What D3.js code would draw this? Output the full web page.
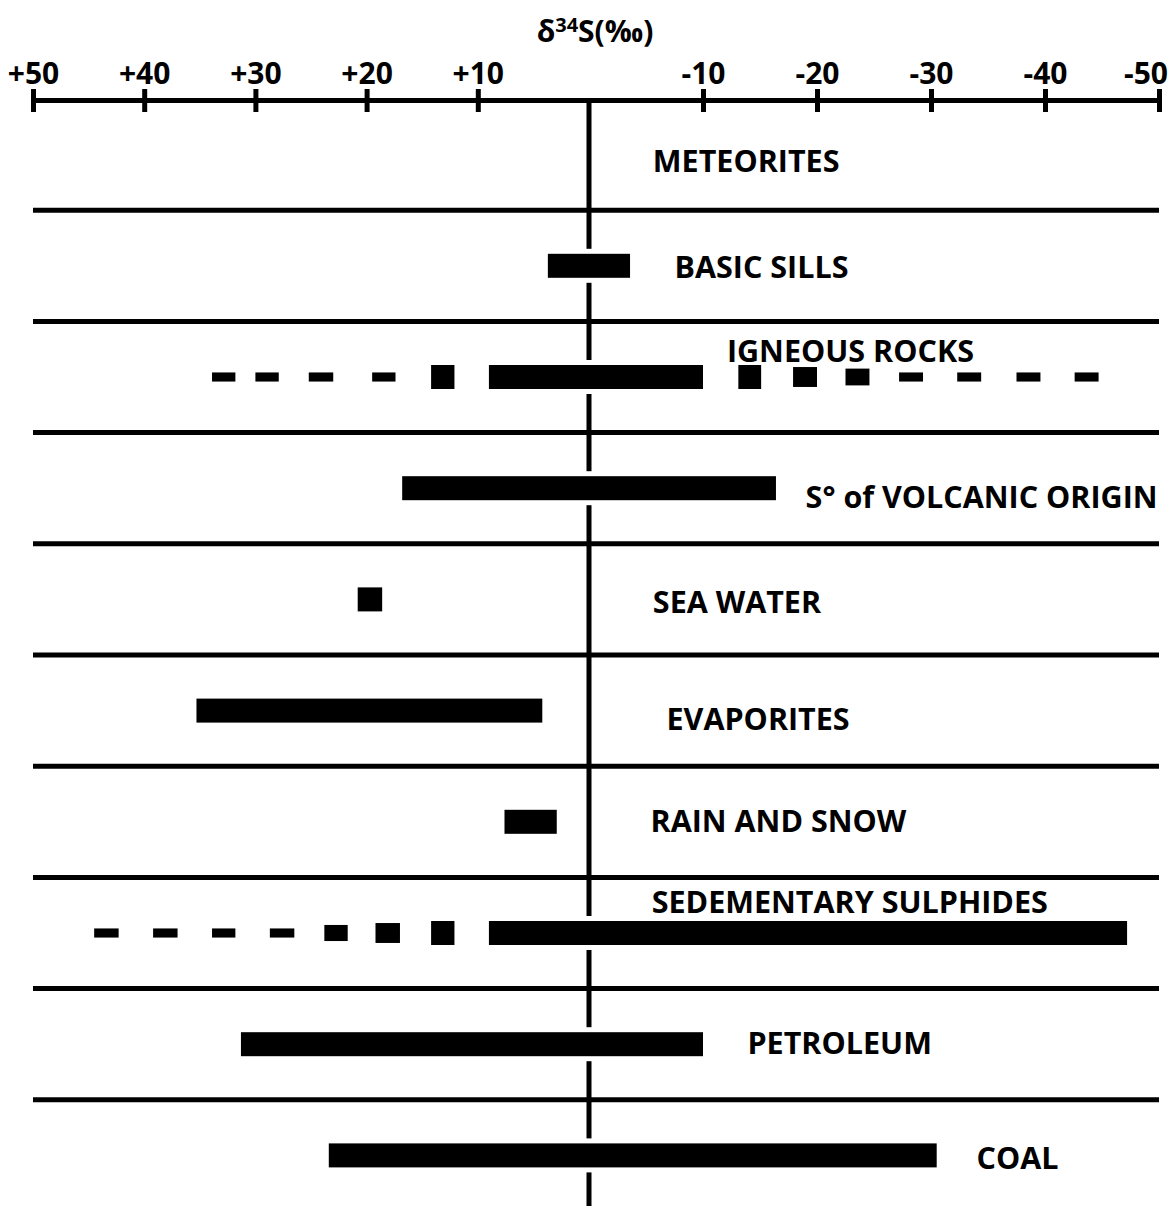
<!DOCTYPE html>
<html>
<head>
<meta charset="utf-8">
<script src="https://cdn.jsdelivr.net/npm/d3@7"></script>
<style>
  html, body { margin: 0; padding: 0; background: #fff; }
  svg { display: block; }
  text { font-family: "Open Sans", "Noto Sans", sans-serif; font-weight: 700; fill: #000; }
</style>
</head>
<body>
<svg id="chart" width="1172" height="1209"></svg>
<script>
// ---------------- data ----------------
const categories = ["METEORITES", "BASIC SILLS", "IGNEOUS ROCKS", "S° of VOLCANIC ORIGIN", "SEA WATER",
  "EVAPORITES", "RAIN AND SNOW", "SEDEMENTARY SULPHIDES", "PETROLEUM", "COAL"];
// main range of δ34S (‰) per category (null = no bar)
const rangeFrom = [null, 3.7, 9.0, 16.8, 20.8, 35.3, 7.6, 9.0, 31.3, 23.4];
const rangeTo   = [null, -3.6, -10.0, -16.4, 18.6, 4.2, 2.9, -47.2, -10.0, -30.5];

// dashed tails (rare occurrences), with relative frequency weight
const igneousTailFrom   = [33.9, 30.0, 25.2, 19.5, 14.2, -13.1, -17.9, -22.5, -27.2, -32.3, -37.5, -42.6];
const igneousTailTo     = [31.8, 27.9, 23.0, 17.4, 12.1, -15.1, -20.0, -24.6, -29.3, -34.4, -39.6, -44.7];
const igneousTailWeight = [0.38, 0.38, 0.38, 0.38, 1.0, 1.0, 0.83, 0.7, 0.38, 0.38, 0.38, 0.38];

const sulphideTailFrom   = [44.5, 39.2, 33.9, 28.7, 23.8, 19.2, 14.2];
const sulphideTailTo     = [42.3, 37.0, 31.8, 26.5, 21.7, 17.0, 12.1];
const sulphideTailWeight = [0.38, 0.38, 0.38, 0.38, 0.67, 0.83, 1.0];

const tickValues = [50, 40, 30, 20, 10, -10, -20, -30, -40, -50];
const tickLabels = ["+50", "+40", "+30", "+20", "+10", "-10", "-20", "-30", "-40", "-50"];

// ---------------- layout ----------------
const W = 1172, H = 1209;
const axisY = 100;
const labelAt = [-5.6, -7.5, -12.1, -19.0, -5.6, -6.8, -5.4, -5.5, -13.9, -34.0]; // δ where label starts
const labelDy = [5, 0, -27, 8, 2, 7, -2, -32, -2, 2];

const svg = d3.select("#chart");
const x = d3.scaleLinear().domain([50, 0, -50]).range([33, 589, 1159]);
const y = d3.scaleBand().domain(categories).range([99, 1211]);
const h = d3.scaleLinear().domain([0, 1]).range([0, 24]);
const barH = h(1);
const LW = 5;

// separators
svg.append("g").selectAll("line").data(categories.slice(1)).join("line")
  .attr("x1", x(50)).attr("x2", x(-50))
  .attr("y1", d => y(d)).attr("y2", d => y(d))
  .attr("stroke", "#000").attr("stroke-width", LW);

// centre (zero) line
svg.append("line")
  .attr("x1", x(0)).attr("x2", x(0))
  .attr("y1", axisY).attr("y2", 1206)
  .attr("stroke", "#000").attr("stroke-width", LW);

// axis
const axisG = svg.append("g").attr("transform", `translate(0,${axisY})`)
  .call(d3.axisTop(x).tickValues(tickValues).tickFormat((d, i) => tickLabels[i])
    .tickSize(11).tickSizeOuter(0).tickPadding(5));
axisG.attr("font-family", null).attr("font-size", null);
axisG.select(".domain").attr("stroke", "#000").attr("stroke-width", LW);
axisG.selectAll(".tick line").attr("stroke", "#000").attr("stroke-width", LW).attr("y1", 12);
axisG.selectAll(".tick text").style("font-size", "30px").attr("fill", "#000");
axisG.selectAll(".tick text").each(function () {
  const bb = this.getBBox();
  const t = d3.select(this.parentNode).attr("transform");
  const tx = +t.match(/translate\(([-\d.]+)/)[1];
  const right = tx + bb.x + bb.width;
  if (right > W - 4) d3.select(this).attr("x", (W - 4) - right);
  const left = tx + bb.x;
  if (left < 4) d3.select(this).attr("x", 4 - left);
});

// title
const title = svg.append("text").attr("x", 595).attr("y", 42)
  .attr("text-anchor", "middle").style("font-size", "30px");
title.append("tspan").text("δ");
title.append("tspan").attr("dy", -10).style("font-size", "20px").text("34");
title.append("tspan").attr("dy", 10).text("S(‰)");

// bars
const rows = categories.map((c, i) => ({ c, from: rangeFrom[i], to: rangeTo[i] })).filter(d => d.from !== null);
const cy = c => y(c) + y.bandwidth() / 2;

svg.append("g").selectAll("rect").data(rows).join("rect")
  .attr("x", d => x(d.from)).attr("width", d => x(d.to) - x(d.from))
  .attr("y", d => cy(d.c) - barH / 2 - 5).attr("height", barH + 10)
  .attr("fill", "#fff");
svg.append("g").selectAll("rect").data(rows).join("rect")
  .attr("x", d => x(d.from)).attr("width", d => x(d.to) - x(d.from))
  .attr("y", d => cy(d.c) - barH / 2).attr("height", barH)
  .attr("fill", "#000");

// tails
const tails = [];
igneousTailFrom.forEach((f, i) => tails.push({ c: "IGNEOUS ROCKS", from: f, to: igneousTailTo[i], w: igneousTailWeight[i] }));
sulphideTailFrom.forEach((f, i) => tails.push({ c: "SEDEMENTARY SULPHIDES", from: f, to: sulphideTailTo[i], w: sulphideTailWeight[i] }));
svg.append("g").selectAll("rect").data(tails).join("rect")
  .attr("x", d => x(d.from)).attr("width", d => x(d.to) - x(d.from))
  .attr("y", d => cy(d.c) - h(d.w) / 2).attr("height", d => h(d.w))
  .attr("fill", "#000");

// labels
svg.append("g").selectAll("text").data(categories).join("text")
  .attr("x", (d, i) => x(labelAt[i]))
  .attr("y", (d, i) => cy(d) + labelDy[i])
  .attr("dominant-baseline", "central")
  .style("font-size", "30.5px")
  .text(d => d);
</script>
</body>
</html>
